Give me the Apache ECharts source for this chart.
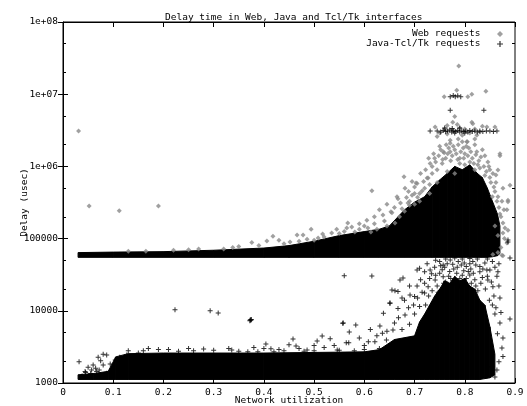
<!DOCTYPE html>
<html>
<head>
<meta charset="utf-8">
<script src="https://cdn.jsdelivr.net/npm/echarts@6/dist/echarts.min.js"></script>
<style>
  html, body { margin: 0; padding: 0; background: #fff; }
  #chart { width: 527px; height: 406px; }
</style>
</head>
<body>
<div id="chart"></div>
<script>
var xTickLabels = ['0', '0.1', '0.2', '0.3', '0.4', '0.5', '0.6', '0.7', '0.8', '0.9'];
var yTickValues = [1e3, 1e4, 1e5, 1e6, 1e7, 1e8];
var yTickLabels = ['1000', '10000', '100000', '1e+06', '1e+07', '1e+08'];
var yMinorTicks = [2e3, 5e3, 2e4, 5e4, 2e5, 5e5, 2e6, 5e6, 2e7, 5e7];

// dense core of the web cloud (solid black in the picture)
var webBandX    = [0.03, 0.10, 0.20, 0.30, 0.40, 0.45, 0.50, 0.55, 0.60, 0.63, 0.65, 0.68, 0.70, 0.72, 0.735, 0.75, 0.765, 0.78, 0.795, 0.81, 0.825, 0.835, 0.845, 0.855, 0.865, 0.87];
var webBandLow  = [55000, 55000, 55000, 55000, 55000, 55000, 55000, 55000, 55000, 55000, 55000, 55000, 55000, 55000, 55000, 55000, 55000, 55000, 55000, 55000, 55000, 55000, 55000, 56000, 58000, 62000];
var webBandHigh = [64000, 65000, 66000, 69000, 74000, 80000, 92000, 110000, 125000, 135000, 150000, 250000, 320000, 380000, 520000, 650000, 800000, 1000000, 900000, 1050000, 800000, 700000, 500000, 330000, 220000, 150000];

// dense core of the Java-Tcl/Tk cloud
var javaBandX    = [0.03, 0.06, 0.09, 0.105, 0.13, 0.20, 0.40, 0.60, 0.63, 0.66, 0.70, 0.71, 0.72, 0.73, 0.74, 0.75, 0.76, 0.77, 0.78, 0.79, 0.80, 0.81, 0.82, 0.83, 0.84, 0.85, 0.86];
var javaBandLow  = [1120, 1120, 1120, 1120, 1120, 1120, 1120, 1120, 1120, 1120, 1120, 1120, 1120, 1120, 1120, 1120, 1120, 1120, 1120, 1120, 1120, 1120, 1120, 1120, 1150, 1180, 1300];
var javaBandHigh = [1300, 1350, 1450, 2300, 2550, 2600, 2600, 2700, 2900, 4000, 4500, 7000, 9000, 12000, 16000, 20000, 26000, 24000, 30000, 26000, 28000, 22000, 20000, 14000, 12000, 6000, 2500];

var webPoints = [
  [0.031, 3.1e6], [0.052, 283000], [0.112, 243000], [0.19, 283000],
  [0.165, 67000], [0.27, 72000], [0.338, 75000], [0.376, 88000], [0.406, 93000], [0.418, 108000],
  [0.452, 90000], [0.466, 112000], [0.478, 112000], [0.486, 98000], [0.494, 135000], [0.508, 102000],
  [0.517, 116000], [0.545, 135000], [0.567, 165000], [0.581, 123000], [0.607, 140000], [0.613, 123000],
  [0.637, 212000], [0.655, 228000], [0.661, 165000], [0.667, 355000], [0.687, 310000], [0.706, 375000],
  [0.715, 455000], [0.653, 235000], [0.665, 380000], [0.679, 720000], [0.681, 500000], [0.703, 590000],
  [0.725, 690000], [0.731, 1.1e6], [0.755, 1.1e6], [0.759, 1.55e6], [0.771, 2.1e6], [0.787, 2.0e6],
  [0.805, 2.2e6], [0.824, 1.6e6], [0.846, 1.15e6], [0.87, 1.5e6], [0.862, 760000], [0.876, 500000],
  [0.886, 340000], [0.884, 250000], [0.886, 130000], [0.81, 1.15e6], [0.83, 950000], [0.78, 800000],
  [0.615, 460000], [0.705, 580000], [0.727, 690000], [0.89, 550000], [0.866, 890000],
  [0.886, 325000], [0.876, 165000], [0.876, 120000], [0.874, 59000], [0.884, 87000], [0.856, 60000],
  [0.866, 64000], [0.876, 58000],
  [0.741, 3.5e6], [0.844, 3.5e6], [0.86, 3.5e6], [0.776, 4.1e6], [0.78, 4.9e6], [0.814, 4.1e6],
  [0.816, 3.9e6], [0.787, 2.4e6], [0.771, 2.3e6], [0.804, 2.2e6], [0.824, 2.7e6], [0.771, 1.6e6],
  [0.757, 1.6e6], [0.797, 1.8e6], [0.87, 1.4e6],
  [0.75, 2.9e6], [0.76, 3.3e6], [0.765, 2.8e6], [0.775, 3.2e6], [0.79, 3.4e6], [0.795, 2.7e6],
  [0.8, 3.3e6], [0.81, 2.9e6], [0.82, 3.3e6], [0.83, 3.0e6], [0.835, 3.6e6], [0.785, 3.8e6],
  [0.765, 3.7e6], [0.745, 2.6e6], [0.82, 2.4e6],
  [0.759, 9.2e6], [0.806, 9.2e6], [0.814, 1.0e7], [0.842, 1.1e7], [0.784, 1.13e7], [0.788, 2.45e7],
  [0.74, 1.3e6], [0.75, 1.9e6], [0.762, 1.3e6], [0.768, 1.8e6], [0.775, 1.4e6], [0.78, 1.7e6],
  [0.79, 1.3e6], [0.795, 2.2e6], [0.8, 1.5e6], [0.808, 1.8e6], [0.815, 1.3e6], [0.82, 2.0e6],
  [0.828, 1.2e6], [0.835, 1.7e6], [0.84, 1.4e6], [0.85, 900000], [0.745, 900000], [0.735, 800000],
  [0.72, 500000], [0.71, 420000], [0.695, 400000], [0.73, 560000], [0.69, 290000], [0.675, 260000],
  [0.85, 700000], [0.86, 450000], [0.864, 330000], [0.87, 220000],
  [0.55, 118000], [0.56, 125000], [0.59, 135000], [0.6, 150000], [0.62, 160000], [0.625, 135000],
  [0.64, 175000], [0.645, 150000], [0.67, 200000], [0.68, 240000], [0.7, 300000], [0.71, 330000],
  [0.73, 420000], [0.745, 600000], [0.765, 850000], [0.79, 1.1e6], [0.8, 1.05e6], [0.82, 900000],
  [0.84, 750000], [0.855, 380000],
  [0.688, 450000], [0.695, 620000], [0.70, 520000], [0.712, 800000], [0.718, 620000], [0.722, 900000],
  [0.728, 1.3e6], [0.735, 1.0e6], [0.738, 1.5e6], [0.742, 1.15e6], [0.748, 1.4e6], [0.752, 1.7e6],
  [0.756, 1.25e6], [0.763, 2.0e6], [0.766, 1.5e6], [0.772, 1.2e6], [0.777, 1.9e6], [0.783, 1.5e6],
  [0.786, 1.25e6], [0.792, 1.6e6], [0.798, 1.3e6], [0.803, 1.9e6], [0.806, 1.4e6], [0.812, 1.6e6],
  [0.818, 1.1e6], [0.822, 1.45e6], [0.826, 1.05e6], [0.832, 1.35e6], [0.838, 1.0e6], [0.843, 850000],
  [0.848, 1.0e6], [0.852, 600000], [0.856, 800000], [0.858, 520000], [0.862, 600000], [0.866, 380000],
  [0.868, 270000], [0.872, 200000], [0.874, 330000], [0.878, 250000], [0.88, 140000], [0.879, 100000],
  [0.872, 75000], [0.866, 110000], [0.86, 150000],
  [0.63, 250000], [0.645, 300000], [0.66, 270000], [0.672, 310000], [0.684, 370000], [0.69, 330000],
  [0.70, 420000], [0.605, 180000], [0.62, 200000], [0.59, 160000], [0.575, 145000], [0.565, 140000],
  [0.535, 120000], [0.52, 105000], [0.5, 95000], [0.47, 92000], [0.44, 85000], [0.43, 95000],
  [0.39, 80000], [0.35, 78000], [0.32, 72000], [0.25, 70000], [0.22, 69000], [0.13, 67000]
];

var javaPoints = [
  [0.771, 9.2e6], [0.777, 9.6e6], [0.781, 9.2e6], [0.786, 9.5e6], [0.792, 9.2e6],
  [0.771, 6.0e6], [0.838, 6.0e6],
  [0.731, 3.1e6], [0.745, 3.1e6], [0.752, 3.0e6], [0.757, 3.15e6], [0.762, 3.05e6], [0.766, 3.1e6],
  [0.77, 3.2e6], [0.774, 3.0e6], [0.778, 3.1e6], [0.782, 3.05e6], [0.786, 3.15e6], [0.79, 3.0e6],
  [0.794, 3.1e6], [0.798, 3.05e6], [0.802, 3.1e6], [0.806, 3.0e6], [0.81, 3.15e6], [0.815, 3.05e6],
  [0.82, 3.1e6], [0.825, 3.0e6], [0.83, 3.1e6], [0.836, 3.05e6], [0.843, 3.1e6], [0.85, 3.1e6],
  [0.857, 3.05e6], [0.864, 3.1e6], [0.76, 3.4e6], [0.775, 3.35e6], [0.79, 3.4e6], [0.8, 2.9e6], [0.78, 2.9e6],
  [0.886, 90000], [0.886, 95500], [0.89, 54000],
  [0.56, 30600], [0.615, 30300], [0.671, 26700], [0.677, 28500], [0.655, 19400], [0.661, 19000],
  [0.667, 18500], [0.651, 12800], [0.705, 36600], [0.71, 39000], [0.72, 34700], [0.731, 36600],
  [0.734, 32500], [0.75, 48000], [0.757, 43000], [0.771, 50500], [0.787, 48000], [0.793, 43000],
  [0.803, 41000], [0.816, 48000], [0.83, 41000], [0.844, 36600], [0.85, 36600], [0.864, 30000],
  [0.866, 34700], [0.7, 15800], [0.727, 21600], [0.741, 26700], [0.757, 29600], [0.784, 33000],
  [0.81, 31300], [0.83, 34700], [0.846, 26700], [0.856, 21600], [0.76, 40000], [0.77, 35000],
  [0.79, 28000], [0.8, 25000], [0.82, 27000], [0.775, 23000], [0.805, 22000], [0.765, 45000],
  [0.81, 45000], [0.74, 40000], [0.75, 33000], [0.825, 52000], [0.795, 52000],
  [0.745, 22000], [0.762, 25000], [0.768, 30000], [0.778, 38000], [0.798, 36000], [0.812, 38000],
  [0.822, 22000], [0.835, 29000], [0.84, 46000], [0.755, 37000], [0.73, 28000], [0.72, 24000],
  [0.715, 18000], [0.69, 22000], [0.68, 14000], [0.725, 45000], [0.86, 40000],
  [0.722, 12000], [0.728, 16000], [0.735, 19000], [0.738, 13000], [0.742, 31000], [0.747, 18000],
  [0.752, 42000], [0.758, 24000], [0.762, 52000], [0.766, 21000], [0.772, 28000], [0.776, 44000],
  [0.781, 26000], [0.785, 40000], [0.789, 22000], [0.795, 31000], [0.799, 46000], [0.803, 28000],
  [0.807, 35000], [0.813, 24000], [0.817, 33000], [0.822, 43000], [0.826, 19000], [0.832, 24000],
  [0.836, 38000], [0.841, 20000], [0.845, 30000], [0.849, 14000], [0.853, 25000], [0.858, 16000],
  [0.862, 11000], [0.868, 22000], [0.872, 9500], [0.855, 48000], [0.868, 45000], [0.845, 52000],
  [0.81, 53000], [0.78, 54000], [0.742, 50000], [0.712, 27000], [0.705, 22000], [0.698, 12000],
  [0.688, 11000], [0.675, 15000], [0.668, 8000], [0.69, 6500], [0.7, 9000], [0.71, 11500],
  [0.675, 5500], [0.66, 6800], [0.645, 5200], [0.625, 4500], [0.6, 3300], [0.59, 4200],
  [0.57, 5100], [0.54, 3300], [0.52, 3100], [0.5, 3300], [0.47, 3000], [0.45, 3400], [0.43, 2900],
  [0.4, 3000], [0.38, 3100], [0.33, 3000], [0.28, 2950], [0.25, 3000], [0.19, 2900], [0.13, 2800], [0.17, 3000],
  [0.557, 6700], [0.583, 6350], [0.612, 5530], [0.631, 6160], [0.638, 9220], [0.651, 12700],
  [0.667, 10800], [0.681, 8750], [0.691, 16600], [0.636, 4880], [0.657, 5420], [0.661, 3730],
  [0.644, 3940], [0.621, 3730], [0.608, 3730], [0.706, 15000], [0.72, 17700],
  [0.87, 6780], [0.89, 7700], [0.876, 4200], [0.874, 3050], [0.876, 2320], [0.864, 1510],
  [0.86, 1210], [0.844, 1250], [0.854, 1680], [0.868, 1970], [0.86, 9000], [0.855, 12000],
  [0.87, 15000], [0.865, 4800],
  [0.032, 1970], [0.223, 10300], [0.293, 10000], [0.309, 9300], [0.372, 7300], [0.375, 7600],
  [0.374, 7400], [0.373, 7500], [0.404, 3470], [0.414, 2990], [0.458, 4070], [0.464, 3250],
  [0.506, 3810], [0.516, 4470], [0.532, 4100], [0.486, 2860], [0.546, 2860], [0.558, 6780],
  [0.564, 3610], [0.569, 3610], [0.336, 2860], [0.368, 2710], [0.388, 2710],
  [0.070, 2270], [0.087, 2440], [0.075, 2040], [0.080, 1775], [0.060, 1775], [0.050, 1650],
  [0.094, 1830], [0.104, 2080], [0.113, 2270], [0.127, 2440], [0.097, 1510], [0.072, 1510],
  [0.057, 1510], [0.044, 1440], [0.067, 1440], [0.087, 1360], [0.038, 1250], [0.045, 1400],
  [0.055, 1350], [0.065, 1600], [0.11, 1700], [0.12, 2000], [0.14, 2300], [0.15, 2600], [0.08, 2500],
  [0.16, 2800], [0.21, 2900], [0.26, 2800], [0.3, 2850], [0.35, 2750], [0.44, 2800], [0.5, 2800],
  [0.55, 2850], [0.6, 2900], [0.63, 3000], [0.23, 2750], [0.42, 2700], [0.48, 2750], [0.58, 2800]
];

var font = 'DejaVu Sans Mono';
var plusPath = 'path://M2,0H3V2H5V3H3V5H2V3H0V2H2Z';

function bandRenderer(bx, blo, bhi) {
  return function (params, api) {
    var i = params.dataIndex;
    if (i >= bx.length - 1) {
      return { type: 'group', children: [] };
    }
    var pts = [
      api.coord([bx[i], blo[i]]),
      api.coord([bx[i + 1], blo[i + 1]]),
      api.coord([bx[i + 1], bhi[i + 1]]),
      api.coord([bx[i], bhi[i]])
    ];
    return {
      type: 'polygon',
      shape: { points: pts },
      style: { fill: '#000', stroke: '#000', lineWidth: 1 }
    };
  };
}

function bandData(bx, blo, bhi) {
  return bx.map(function (x, i) { return [x, blo[i], bhi[i]]; });
}

function logAxis(position, ticks, len, withLabels) {
  return {
    type: 'log',
    logBase: 10,
    min: 1000,
    max: 1e8,
    position: position,
    axisLine: { show: withLabels, lineStyle: { color: '#000', width: 1 } },
    axisTick: { show: true, inside: true, length: len, customValues: ticks, lineStyle: { color: '#000' } },
    axisLabel: {
      show: withLabels,
      customValues: yTickValues,
      margin: 5,
      color: '#000',
      fontFamily: font,
      fontSize: 9.5,
      formatter: function (v) {
        return yTickLabels[Math.round(Math.log10(v)) - 3];
      }
    },
    splitLine: { show: false },
    minorTick: { show: false }
  };
}

var yMain = logAxis('left', yTickValues, 5, true);
yMain.name = 'Delay (usec)';
yMain.nameLocation = 'middle';
yMain.nameRotate = 90;
yMain.nameGap = 33;
yMain.nameMoveOverlap = false;
yMain.nameTextStyle = { color: '#000', fontFamily: font, fontSize: 9.5 };

var option = {
  animation: false,
  backgroundColor: '#fff',
  title: {
    text: 'Delay time in Web, Java and Tcl/Tk interfaces',
    left: 160,
    top: 8,
    textStyle: { color: '#000', fontFamily: font, fontSize: 9.5, fontWeight: 'normal' }
  },
  legend: {
    data: [
      { name: 'Web requests', icon: 'diamond' },
      { name: 'Java-Tcl/Tk requests', icon: plusPath }
    ],
    orient: 'vertical',
    right: 24,
    top: 29,
    padding: 0,
    align: 'right',
    itemWidth: 6,
    itemHeight: 6,
    itemGap: 0,
    selectedMode: false,
    formatter: function (n) { return n + '  '; },
    textStyle: { color: '#000', fontFamily: font, fontSize: 9.5, lineHeight: 10 }
  },
  grid: {
    left: 63,
    right: 12,
    top: 22,
    bottom: 23,
    containLabel: false,
    outerBoundsMode: 'none',
    show: true,
    borderColor: '#000',
    borderWidth: 1
  },
  xAxis: [
    {
      type: 'value',
      min: 0,
      max: 0.9,
      interval: 0.1,
      position: 'bottom',
      axisLine: { show: true, lineStyle: { color: '#000', width: 1 } },
      axisTick: { show: true, inside: true, length: 5, lineStyle: { color: '#000' } },
      axisLabel: {
        margin: 5,
        color: '#000',
        fontFamily: font,
        fontSize: 9.5,
        formatter: function (v) { return xTickLabels[Math.round(v * 10)]; }
      },
      splitLine: { show: false },
      name: 'Network utilization',
      nameLocation: 'middle',
      nameGap: 13,
      nameMoveOverlap: false,
      nameTextStyle: { color: '#000', fontFamily: font, fontSize: 9.5 }
    },
    {
      type: 'value',
      min: 0,
      max: 0.9,
      interval: 0.1,
      position: 'top',
      axisLine: { show: true, lineStyle: { color: '#000', width: 1 } },
      axisTick: { show: true, inside: true, length: 5, lineStyle: { color: '#000' } },
      axisLabel: { show: false },
      splitLine: { show: false }
    }
  ],
  yAxis: [
    yMain,
    logAxis('right', yTickValues, 5, false),
    logAxis('left', yMinorTicks, 3, false),
    logAxis('right', yMinorTicks, 3, false)
  ],
  series: [
    {
      name: 'web core',
      type: 'custom',
      renderItem: bandRenderer(webBandX, webBandLow, webBandHigh),
      data: bandData(webBandX, webBandLow, webBandHigh),
      encode: { x: 0, y: [1, 2] },
      clip: true,
      silent: true
    },
    {
      name: 'Web requests',
      type: 'scatter',
      symbol: 'diamond',
      symbolSize: 5,
      data: webPoints,
      itemStyle: { color: '#888' },
      silent: true
    },
    {
      name: 'java core',
      type: 'custom',
      renderItem: bandRenderer(javaBandX, javaBandLow, javaBandHigh),
      data: bandData(javaBandX, javaBandLow, javaBandHigh),
      encode: { x: 0, y: [1, 2] },
      clip: true,
      silent: true
    },
    {
      name: 'Java-Tcl/Tk requests',
      type: 'scatter',
      symbol: plusPath,
      symbolSize: 5,
      data: javaPoints,
      itemStyle: { color: '#000' },
      silent: true
    }
  ]
};

var chart = echarts.init(document.getElementById('chart'));
chart.setOption(option);
window.addEventListener('resize', function () {
  chart.resize();
});
</script>
</body>
</html>
